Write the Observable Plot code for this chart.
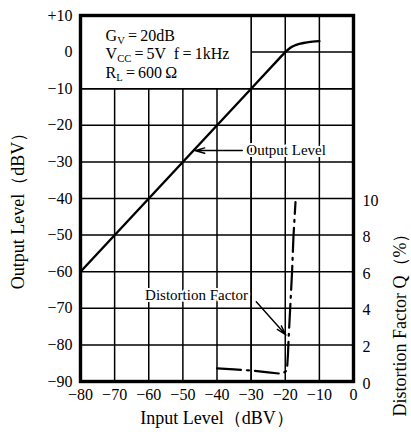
<!DOCTYPE html>
<html>
<head>
<meta charset="utf-8">
<script src="https://cdn.jsdelivr.net/npm/d3@7"></script>
<script src="https://cdn.jsdelivr.net/npm/@observablehq/plot@0.6"></script>
<style>
  html, body { margin: 0; padding: 0; background: #fff; }
  svg { font-family: "Liberation Serif", "Times New Roman", serif; }
</style>
</head>
<body>
<div id="chart"></div>
<script>
// ---- data ----
const inputLevel  = [-80, -30, -22, -20, -18.5, -17, -14, -12, -10];
const outputLevel = [-60, -10, -2, 0, 1.2, 1.9, 2.6, 2.85, 3.0];

const distInput  = [-40, -35, -30, -25, -21, -19.5, -19.2, -19, -18.5, -18, -17.6, -17];
const distFactor = [0.72, 0.66, 0.6, 0.5, 0.42, 0.6, 1.5, 2.4, 4.2, 6.0, 7.9, 9.8];

const xTicks = [-80, -70, -60, -50, -40, -30, -20, -10, 0];
const yTicks = [10, 0, -10, -20, -30, -40, -50, -60, -70, -80, -90];
const distTicks = [0, 2, 4, 6, 8, 10];

const boxX = [-80, -30];
const boxY = [-10, 10];
const condLines = [
  [["G", ""], ["V", "sub"], ["\u2009=\u200920dB", ""]],
  [["V", ""], ["CC", "sub"], ["\u2009=\u20095V  f\u2009=\u20091kHz", ""]],
  [["R", ""], ["L", "sub"], ["\u2009=\u2009600\u2009\u03A9", ""]]
];
const condX = -72.5;
const condY = [4.5, -0.5, -5.6];

const labelOut = {text: "Output Level", x: -32, y: -26.9, ax1: -32.6, ax2: -46.5};
const labelDist = {text: "Distortion Factor", x: -46, y: -66.4, ax1: -28.5, ay1: -68.2, ax2: -19.8, ay2: -77.3};

const titleX = "Input Level\uFF08dBV\uFF09";
const titleY = "Output Level\uFF08dBV\uFF09";
const titleY2 = "Distortion Factor Q\uFF08%\uFF09";

// distortion (%) → left scale position (dB): 0% ↔ −90 dB, 10% ↔ −40 dB
const distToDb = d => -90 + 5 * d;

const fmtSigned = d => d > 0 ? "+" + d : d < 0 ? "\u2212" + Math.abs(d) : "0";

const outData = inputLevel.map((x, i) => ({x, y: outputLevel[i]}));
const distData = distInput.map((x, i) => ({x, y: distToDb(distFactor[i])}));

const serif = "Liberation Serif, Times New Roman, serif";

const condMark = (index, scales) => {
  const g = d3.create("svg:g")
    .attr("font-family", serif)
    .attr("font-size", 16)
    .attr("text-anchor", "start")
    .attr("fill", "black");
  condLines.forEach((parts, i) => {
    const t = g.append("text")
      .attr("text-anchor", "start")
      .attr("x", scales.x(condX))
      .attr("y", scales.y(condY[i]))
      .attr("dy", "0.35em");
    parts.forEach(([s, kind], j) => {
      if (kind === "sub") {
        t.append("tspan").attr("font-size", 10.5).attr("dy", 3).text(s);
      } else {
        const ts = t.append("tspan").text(s);
        if (j > 0) ts.attr("dy", -3);
      }
    });
  });
  return g.node();
};

const chart = Plot.plot({
  width: 411,
  height: 432,
  marginLeft: 80,
  marginRight: 58,
  marginTop: 15,
  marginBottom: 51,
  style: {fontFamily: serif, fontSize: "16px", color: "black", background: "white"},
  x: {domain: [-80, 0]},
  y: {domain: [-90, 10]},
  marks: [
    Plot.ruleX(xTicks, {stroke: "black", strokeWidth: 1.5}),
    Plot.ruleY(yTicks, {stroke: "black", strokeWidth: 1.5}),
    Plot.rect([{x1: boxX[0], x2: boxX[1], y1: boxY[0], y2: boxY[1]}],
      {x1: "x1", x2: "x2", y1: "y1", y2: "y2", fill: "white", inset: -0.5}),
    Plot.ruleX([boxX[1]], {stroke: "black", strokeWidth: 1.5}),
    Plot.ruleY([boxY[0]], {stroke: "black", strokeWidth: 1.5}),
    Plot.frame({stroke: "black", strokeWidth: 3.4}),
    Plot.axisX({ticks: xTicks, tickSize: 0, tickPadding: 7, tickFormat: fmtSigned, fontSize: 16, label: null}),
    Plot.axisY({ticks: yTicks, tickSize: 0, tickPadding: 8, tickFormat: fmtSigned, fontSize: 16, label: null}),
    Plot.axisY({anchor: "right", ticks: distTicks.map(distToDb), tickSize: 0, tickPadding: 9,
      tickFormat: d => String((d + 90) / 5), fontSize: 16, label: null, dy: 2}),
    Plot.text([titleX], {frameAnchor: "bottom", dy: 42, fontSize: 18, fill: "black", textAnchor: "middle"}),
    Plot.text([titleY], {frameAnchor: "left", dx: -62, dy: 8, rotate: -90,
      fontSize: 18, fill: "black", textAnchor: "middle"}),
    Plot.text([titleY2], {frameAnchor: "right", dx: 47, dy: 122, rotate: -90,
      fontSize: 18, fill: "black", textAnchor: "middle"}),
    Plot.line(outData, {x: "x", y: "y", stroke: "black", strokeWidth: 2.4, curve: "monotone-x"}),
    Plot.line(distData, {x: "x", y: "y", stroke: "black", strokeWidth: 2.2, strokeDasharray: "24,6,2,6", curve: "linear"}),
    Plot.text([labelOut], {x: "x", y: "y", text: "text", textAnchor: "start", fontSize: 15, fill: "black", stroke: "white", strokeWidth: 4, dx: 2}),
    Plot.arrow([labelOut], {x1: "ax1", y1: "y", x2: "ax2", y2: "y", stroke: "black", strokeWidth: 1.4, headLength: 11, headAngle: 30}),
    Plot.text([labelDist], {x: "x", y: "y", text: "text", textAnchor: "middle", fontSize: 15, fill: "black", stroke: "white", strokeWidth: 4}),
    Plot.arrow([labelDist], {x1: "ax1", y1: "ay1", x2: "ax2", y2: "ay2", stroke: "black", strokeWidth: 1.4, headLength: 11, headAngle: 30}),
    condMark
  ]
});
document.getElementById("chart").appendChild(chart);
</script>
</body>
</html>
